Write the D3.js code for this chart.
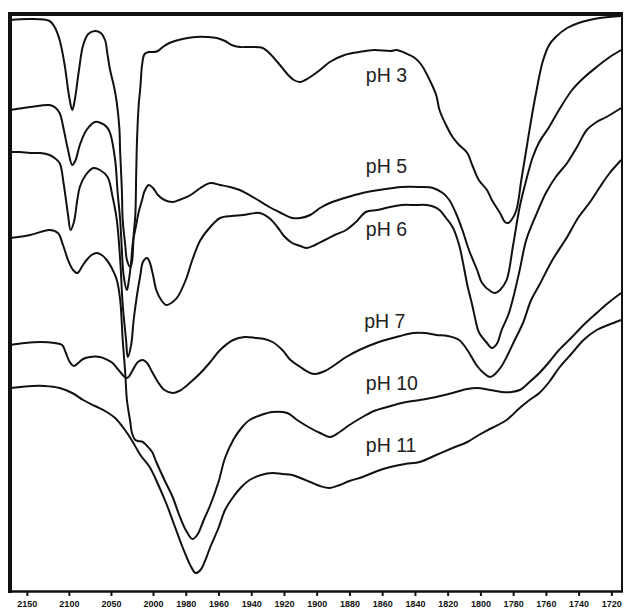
<!DOCTYPE html>
<html>
<head>
<meta charset="utf-8">
<script src="https://cdn.jsdelivr.net/npm/d3@7"></script>
<style>
  html, body { margin: 0; padding: 0; background: #fff; }
  svg { display: block; }
</style>
</head>
<body>
<svg id="chart" width="624" height="608"></svg>
<script>
// Wavenumber (cm-1) vs. offset transmittance (arbitrary units)
const tickValues = [2150, 2100, 2050, 2000, 1980, 1960, 1940, 1920, 1900, 1880, 1860, 1840, 1820, 1800, 1780, 1760, 1740, 1720];
const seriesNames = ["pH 3", "pH 5", "pH 6", "pH 7", "pH 10", "pH 11"];

const pH3 = [[2170,573],[2146,574],[2123,572],[2117,566],[2111,553],[2105,528],[2100,498],[2096,483],[2093,493],[2088,523],[2083,548],[2077,559],[2069,562],[2062,560],[2057,553],[2054,538],[2051,523],[2046,505],[2043,490],[2040,465],[2039,440],[2037,403],[2036,373],[2033,348],[2031,333],[2027,326],[2025,331],[2023,358],[2021,378],[2020,418],[2019,453],[2017,488],[2015,506],[2013,528],[2010,539],[2005,541],[2000,541],[1997,542],[1994,546],[1990,550],[1982,554],[1974,556],[1967,556],[1961,555],[1956,552],[1952,548],[1947,546],[1941,546],[1933,545],[1929,540],[1924,531],[1918,519],[1914,513],[1910,511],[1907,513],[1903,517],[1898,523],[1892,531],[1883,538],[1874,541],[1865,543],[1855,542],[1851,543],[1846,540],[1840,535],[1836,528],[1831,513],[1827,498],[1825,483],[1821,468],[1817,456],[1813,448],[1808,440],[1805,428],[1801,413],[1796,403],[1793,393],[1788,380],[1785,371],[1783,370],[1781,373],[1778,383],[1775,413],[1772,443],[1769,473],[1766,500],[1762,531],[1758,548],[1754,556],[1747,565],[1740,570],[1727,575],[1714,577]];

const pH5 = [[2170,483],[2146,486],[2123,488],[2117,486],[2111,480],[2106,463],[2101,443],[2096,428],[2092,433],[2087,448],[2079,463],[2069,471],[2062,470],[2055,466],[2051,460],[2045,433],[2042,400],[2039,373],[2037,343],[2035,318],[2031,303],[2029,311],[2026,331],[2024,350],[2020,368],[2017,381],[2013,393],[2010,402],[2005,408],[2000,405],[1997,398],[1993,393],[1988,391],[1984,393],[1977,398],[1971,405],[1965,410],[1959,408],[1953,406],[1947,403],[1938,395],[1929,386],[1923,381],[1915,375],[1910,375],[1904,378],[1898,385],[1892,390],[1883,395],[1872,400],[1862,403],[1848,406],[1837,406],[1829,405],[1823,400],[1819,393],[1815,380],[1811,363],[1807,343],[1802,323],[1799,310],[1794,302],[1791,300],[1788,303],[1784,313],[1780,348],[1776,386],[1772,413],[1768,436],[1764,451],[1758,466],[1752,483],[1744,503],[1737,515],[1729,526],[1721,536],[1714,543]];

const pH6 = [[2170,441],[2158,441],[2146,440],[2134,440],[2123,438],[2117,435],[2111,430],[2106,408],[2101,378],[2098,363],[2094,371],[2090,393],[2087,406],[2080,418],[2071,425],[2063,423],[2054,416],[2048,396],[2043,373],[2039,333],[2036,288],[2032,253],[2030,236],[2026,248],[2023,273],[2019,298],[2015,318],[2012,331],[2007,335],[2004,331],[2000,318],[1998,303],[1995,293],[1992,288],[1988,291],[1985,296],[1980,313],[1976,333],[1971,353],[1965,366],[1959,375],[1952,377],[1945,378],[1935,380],[1929,375],[1924,366],[1920,357],[1915,350],[1910,347],[1906,345],[1901,348],[1895,353],[1889,358],[1882,363],[1876,371],[1870,381],[1863,383],[1855,386],[1848,388],[1840,388],[1833,388],[1828,386],[1825,383],[1821,375],[1817,366],[1813,348],[1810,325],[1808,308],[1805,288],[1803,273],[1801,261],[1796,250],[1793,245],[1790,249],[1787,263],[1783,278],[1780,295],[1776,323],[1772,353],[1766,378],[1760,400],[1754,416],[1747,430],[1741,446],[1735,463],[1729,471],[1723,476],[1714,485]];

const pH7 = [[2170,248],[2152,250],[2134,251],[2117,250],[2108,248],[2104,241],[2099,231],[2094,227],[2089,230],[2083,234],[2075,236],[2063,236],[2054,233],[2048,230],[2043,225],[2037,219],[2032,215],[2029,216],[2024,223],[2018,231],[2012,233],[2007,230],[2001,221],[1997,211],[1993,203],[1988,200],[1984,202],[1979,208],[1971,220],[1965,231],[1959,243],[1951,253],[1944,256],[1937,255],[1932,254],[1927,251],[1921,243],[1916,233],[1910,226],[1904,220],[1901,219],[1895,222],[1889,228],[1882,236],[1874,243],[1862,251],[1849,257],[1841,260],[1834,260],[1827,258],[1820,257],[1813,253],[1808,243],[1802,227],[1798,220],[1794,216],[1791,219],[1787,227],[1784,236],[1779,253],[1774,270],[1769,293],[1764,308],[1756,333],[1747,356],[1740,376],[1733,391],[1727,406],[1721,420],[1714,433]];

const pH10 = [[2170,355],[2146,358],[2123,363],[2113,360],[2107,348],[2101,333],[2095,323],[2090,320],[2084,327],[2079,333],[2073,338],[2067,340],[2061,338],[2055,333],[2049,325],[2043,313],[2039,293],[2036,253],[2033,220],[2031,193],[2027,171],[2025,160],[2021,153],[2018,152],[2012,151],[2007,147],[2001,141],[1998,131],[1993,113],[1988,96],[1984,78],[1980,63],[1976,54],[1973,58],[1969,73],[1965,88],[1960,111],[1956,135],[1951,153],[1946,165],[1941,173],[1934,178],[1927,181],[1918,180],[1912,173],[1904,165],[1898,160],[1892,156],[1886,161],[1880,168],[1872,176],[1865,182],[1857,186],[1848,190],[1837,193],[1827,196],[1817,200],[1808,204],[1802,205],[1794,203],[1787,201],[1781,201],[1776,203],[1770,211],[1764,220],[1758,231],[1752,243],[1744,256],[1737,268],[1729,280],[1722,290],[1714,300]];

const pH11 = [[2170,205],[2158,206],[2143,207],[2129,207],[2111,205],[2096,200],[2083,193],[2069,187],[2055,181],[2045,175],[2036,166],[2030,159],[2024,151],[2015,138],[2004,126],[1997,109],[1992,90],[1987,68],[1982,46],[1977,27],[1974,20],[1971,23],[1968,33],[1965,46],[1960,65],[1956,83],[1951,96],[1946,106],[1941,113],[1934,118],[1927,120],[1921,119],[1915,118],[1910,115],[1904,111],[1898,107],[1892,105],[1886,108],[1880,112],[1872,116],[1863,122],[1855,126],[1846,129],[1837,131],[1827,138],[1817,145],[1808,151],[1801,158],[1793,165],[1784,173],[1776,185],[1770,193],[1764,200],[1758,211],[1752,225],[1744,240],[1737,253],[1729,263],[1722,268],[1714,273]];

// label anchors (wavenumber, value at text baseline)
const labelAnchors = [[1870,511],[1870,420],[1870,357],[1871,265],[1870,203],[1870,141]];

const seriesData = [pH3, pH5, pH6, pH7, pH10, pH11];

const svg = d3.select("#chart");

// two-segment wavenumber axis (scale change at 2000 cm-1)
const x = d3.scaleLinear().domain([2170, 2000, 1713.5]).range([10, 153, 622]);
const y = d3.scaleLinear().domain([0, 580]).range([593, 13]);

const line = d3.line()
  .x(d => x(d[0]))
  .y(d => y(d[1]))
  .curve(d3.curveCatmullRom.alpha(0.5));

svg.append("g")
  .selectAll("path")
  .data(seriesData)
  .join("path")
  .attr("d", line)
  .attr("fill", "none")
  .attr("stroke", "#111")
  .attr("stroke-width", 2)
  .attr("stroke-linejoin", "round");

// series labels
svg.append("g")
  .selectAll("text")
  .data(seriesNames)
  .join("text")
  .attr("x", (d, i) => x(labelAnchors[i][0]))
  .attr("y", (d, i) => y(labelAnchors[i][1]))
  .attr("font-family", "'Liberation Sans', Arial, sans-serif")
  .attr("font-size", 19.5)
  .attr("fill", "#222")
  .text(d => d);

// x axis
const xAxis = d3.axisBottom(x)
  .tickValues(tickValues)
  .tickFormat(d3.format("d"))
  .tickSize(5)
  .tickPadding(5);

const gx = svg.append("g")
  .attr("transform", "translate(0,591)")
  .call(xAxis);
gx.select(".domain").remove();
gx.selectAll(".tick line").attr("stroke", "#111").attr("stroke-width", 2);
gx.selectAll(".tick text")
  .attr("font-family", "'Liberation Sans', Arial, sans-serif")
  .attr("font-size", 9)
  .attr("font-weight", "bold")
  .attr("fill", "#111");

// frame
const frame = svg.append("g").attr("stroke", "#111").attr("fill", "none");
frame.append("line").attr("x1", x.range()[0] - 2).attr("x2", x.range()[2] + 1).attr("y1", 14).attr("y2", 14).attr("stroke-width", 4);
frame.append("line").attr("x1", x.range()[0]).attr("x2", x.range()[0]).attr("y1", 12).attr("y2", 593).attr("stroke-width", 4);
frame.append("line").attr("x1", x.range()[2]).attr("x2", x.range()[2]).attr("y1", 12).attr("y2", 592).attr("stroke-width", 2);
frame.append("line").attr("x1", x.range()[0] - 2).attr("x2", x.range()[2] + 1).attr("y1", 591.5).attr("y2", 591.5).attr("stroke-width", 2.5);
</script>
</body>
</html>
